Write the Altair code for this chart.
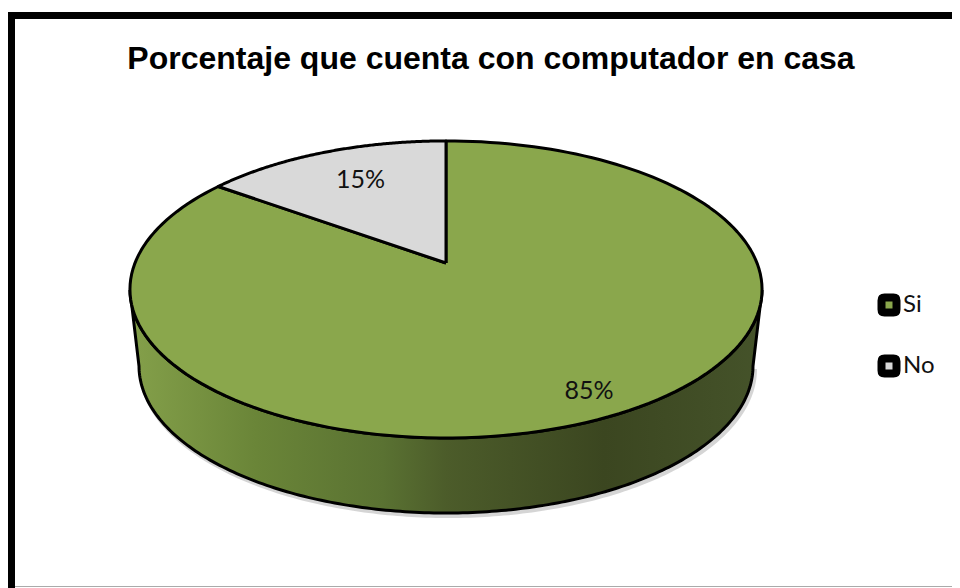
import numpy as np
import pandas as pd
import altair as alt

title_text = "Porcentaje que cuenta con computador en casa"
categories = ["Si", "No"]
values = [85, 15]
labels = ["85%", "15%"]
colors = ["#8aa74c", "#d9d9d9"]

W, H = 944, 580
CX, CY = 438, 255          # pie apex in plot units
A, B, K = 311, 143.8, 0.178  # perspective ellipse
LOW_A, LOW_CY, LOW_B = 307, 358, 147


def project(t, r=1.0):
    u, v = r * np.sin(t), r * np.cos(t)
    w = 1 + K * v
    return CX + A * u / w, CY - B * v / w


def rim(t0, t1, n=160):
    return project(np.radians(np.linspace(t0, t1, n)))


# slices run clockwise from 12 o'clock, Si first
si_sweep = values[0] / sum(values) * 360
rows = []
spans = {"Si": (0, si_sweep), "No": (si_sweep, 360)}
for cat in categories:
    t0, t1 = spans[cat]
    xs, ys = rim(t0, t1)
    xs = np.r_[CX, xs, CX]
    ys = np.r_[CY, ys, CY]
    for i, (x, y) in enumerate(zip(xs, ys)):
        rows.append({"cat": cat, "i": i, "x": x, "y": y})
slices = pd.DataFrame(rows)

# side wall: front part of the rim, then the lower rim back
front = np.radians(np.linspace(0, 360, 721))
fx, fy = project(front)
left_i, right_i = int(np.argmin(fx)), int(np.argmax(fx))
upper_x, upper_y = fx[right_i:left_i + 1], fy[right_i:left_i + 1]
low_t = np.radians(np.linspace(270, 90, 200))
lower_x = CX + LOW_A * np.sin(low_t)
lower_y = LOW_CY - LOW_B * np.cos(low_t)
wx = np.r_[upper_x, lower_x, upper_x[0]]
wy = np.r_[upper_y, lower_y, upper_y[0]]
wall = pd.DataFrame({"x": wx, "y": wy, "i": np.arange(len(wx))})
shadow = pd.DataFrame({"x": lower_x + 2, "y": lower_y + 3, "i": np.arange(len(lower_x))})

# value labels sit along each slice's middle direction
label_r = {"Si": 0.862, "No": 0.722}
label_nudge = {"Si": 2, "No": 6}
lab_rows = []
for cat, lab in zip(categories, labels):
    t0, t1 = spans[cat]
    lx, ly = project(np.radians((t0 + t1) / 2), label_r[cat])
    lab_rows.append({"x": float(lx) + label_nudge[cat], "y": float(ly), "label": lab})
label_df = pd.DataFrame(lab_rows)

xs = alt.Scale(domain=[0, W], range=[0, W])
ys = alt.Scale(domain=[0, H], range=[0, H])
X = alt.X("x:Q", scale=xs, axis=None)
Y = alt.Y("y:Q", scale=ys, axis=None)

wall_fill = {
    "gradient": "linear", "x1": 0, "x2": 1, "y1": 0, "y2": 0,
    "stops": [
        {"offset": 0, "color": "#84a04a"},
        {"offset": 0.2, "color": "#6a8538"},
        {"offset": 0.4, "color": "#5a7232"},
        {"offset": 0.5, "color": "#4c5c2a"},
        {"offset": 0.75, "color": "#3b4620"},
        {"offset": 1, "color": "#45532a"},
    ],
}

shadow_l = alt.Chart(shadow).mark_line(color="#888888", opacity=0.35, strokeWidth=4).encode(x=X, y=Y, order="i:Q")
wall_l = alt.Chart(wall).mark_line(fill=wall_fill, stroke="black", strokeWidth=3).encode(x=X, y=Y, order="i:Q")

rounded_square = ("M -0.6 -1 H 0.6 Q 1 -1 1 -0.6 V 0.6 Q 1 1 0.6 1 H -0.6 "
                  "Q -1 1 -1 0.6 V -0.6 Q -1 -1 -0.6 -1 Z")

slice_l = alt.Chart(slices).mark_line(stroke="black", strokeWidth=3, strokeJoin="round").encode(
    x=X, y=Y, order="i:Q", detail="cat:N",
    fill=alt.Fill(
        "cat:N",
        scale=alt.Scale(domain=categories, range=colors),
        legend=alt.Legend(
            title=None, orient="none", legendX=869, legendY=285,
            symbolType=rounded_square, symbolSize=225,
            symbolStrokeColor="black", symbolStrokeWidth=8,
            labelFont="Lato", labelFontSize=24, labelColor="#111111",
            labelOffset=2, rowPadding=13, symbolOpacity=1,
        ),
    ),
)

text_l = alt.Chart(label_df).mark_text(font="Lato", fontSize=25, color="#111111").encode(x=X, y=Y, text="label:N")

frame_top = alt.Chart(pd.DataFrame({"k": [0]})).mark_rule(color="black", strokeWidth=7).encode(
    x=alt.value(0), x2=alt.value(W), y=alt.value(7.5))
frame_left = alt.Chart(pd.DataFrame({"k": [0]})).mark_rule(color="black", strokeWidth=7).encode(
    x=alt.value(3.5), y=alt.value(4), y2=alt.value(H))
frame_bottom = alt.Chart(pd.DataFrame({"k": [0]})).mark_rule(color="#aaaaaa", strokeWidth=1).encode(
    x=alt.value(7), x2=alt.value(W), y=alt.value(578.5))

chart = (
    alt.layer(frame_top, frame_left, frame_bottom, shadow_l, wall_l, slice_l, text_l)
    .properties(
        width=W, height=H, padding=0,
        autosize=alt.AutoSizeParams(type="none"),
        title=alt.Title(title_text, font="Liberation Sans", fontSize=32, fontWeight="bold",
                        color="black", anchor="middle", dx=11, dy=68, offset=0),
    )
    .configure_view(stroke=None)
)
chart.save("out.html", embed_options={"renderer": "svg", "actions": False})
